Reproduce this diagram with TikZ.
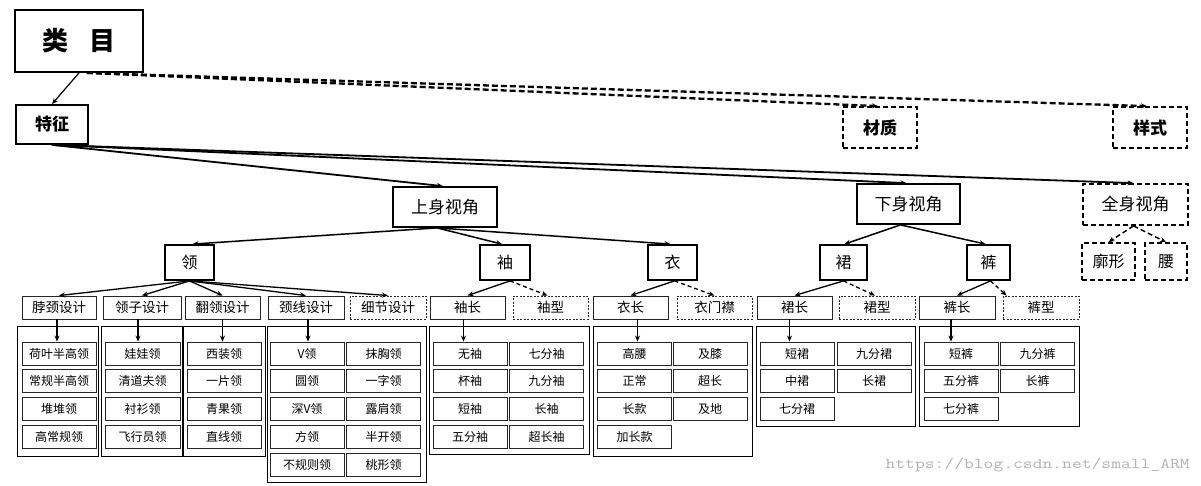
\documentclass[tikz,border=0pt]{standalone}
\usepackage{fontspec}
\newfontfamily\cjk{Noto Sans CJK SC}
\usetikzlibrary{arrows.meta}
\begin{document}
\begin{tikzpicture}[x=1pt,y=-1pt,
  every node/.style={inner sep=0pt, align=center, font=\cjk},
  tbox/.style={draw, line width=1.8pt},
  dbox/.style={draw, line width=1.8pt, dash pattern=on 5pt off 3pt},
  fa/.style={font=\cjk\fontsize{17}{17}\selectfont},
  fb/.style={font=\cjk\fontsize{16}{16}\selectfont},
  lthree/.style={draw=black!85, line width=0.9pt, minimum width=75pt, minimum height=23pt, font=\cjk\fontsize{13.5}{14}\selectfont},
  lthreed/.style={lthree, dash pattern=on 2pt off 1.5pt},
  item/.style={draw=black!85, line width=0.9pt, minimum width=74pt, minimum height=23pt, font=\cjk\fontsize{12}{12}\selectfont},
  cont/.style={draw, line width=0.9pt},
  tip/.style={-{Stealth[length=6pt,width=5pt]}},
  arr/.style={tip, line width=1.5pt},
  darr/.style={arr, dash pattern=on 5pt off 3pt},
  topd/.style={tip, line width=2.3pt, dash pattern=on 6pt off 3pt},
  inarr/.style={tip, line width=1.4pt}
]
\useasboundingbox (0,0) rectangle (1201,485);

% top level
\node[tbox, minimum width=128pt, minimum height=62pt, font=\cjk\bfseries\fontsize{26}{26}\selectfont] (lm) at (79,41) {类\hspace{22pt}目};
\node[tbox, minimum width=72pt, minimum height=39pt, font=\cjk\bfseries\fontsize{17}{17}\selectfont] (tz) at (52,124.5) {特征};
\node[dbox, minimum width=74pt, minimum height=41pt, font=\cjk\bfseries\fontsize{17}{17}\selectfont] (cz) at (880,127.5) {材质};
\node[dbox, minimum width=74pt, minimum height=41pt, font=\cjk\bfseries\fontsize{17}{17}\selectfont] (ys) at (1150,127.5) {样式};

% level 2
\node[tbox, fa, minimum width=104pt, minimum height=40pt] (ss) at (445,207) {上身视角};
\node[tbox, fa, minimum width=103pt, minimum height=40pt] (xs) at (908.5,204) {下身视角};
\node[dbox, fa, minimum width=105pt, minimum height=41pt] (qs) at (1135.5,204.5) {全身视角};
\node[dbox, fb, minimum width=53pt, minimum height=37pt] (kx) at (1108.5,261.5) {廓形};
\node[dbox, fb, minimum width=42pt, minimum height=37pt] (yao) at (1166,261.5) {腰};

\node[tbox, fb, minimum width=49pt, minimum height=35pt] (ling) at (189.5,262.5) {领};
\node[tbox, fb, minimum width=50pt, minimum height=35pt] (xiu) at (505,262.5) {袖};
\node[tbox, fb, minimum width=49pt, minimum height=35pt] (yi) at (672.5,262.5) {衣};
\node[tbox, fb, minimum width=47pt, minimum height=35pt] (qun) at (843.5,262.5) {裙};
\node[tbox, fb, minimum width=43pt, minimum height=35pt] (ku) at (988.5,262.5) {裤};

% level 3
\node[lthree, minimum width=74pt] (b1) at (59,307.5) {脖颈设计};
\node[lthree, minimum width=78pt] (b2) at (142,307.5) {领子设计};
\node[lthree] (b3) at (222.5,307.5) {翻领设计};
\node[lthree, minimum width=76pt] (b4) at (306,307.5) {颈线设计};
\node[lthreed, minimum width=76pt] (b5) at (388,307.5) {细节设计};
\node[lthree] (b6) at (467.5,307.5) {袖长};
\node[lthreed] (b7) at (550.5,307.5) {袖型};
\node[lthree] (b8) at (630.5,307.5) {衣长};
\node[lthreed] (b9) at (714.5,307.5) {衣门襟};
\node[lthree] (b10) at (794.5,307.5) {裙长};
\node[lthreed, minimum width=76pt] (b11) at (877,307.5) {裙型};
\node[lthree, minimum width=76pt] (b12) at (957,307.5) {裤长};
\node[lthreed, minimum width=76pt] (b13) at (1041,307.5) {裤型};

% containers
\node[cont, minimum width=81pt, minimum height=130pt] (k1) at (57.5,391) {};
\node[cont, minimum width=81pt, minimum height=130pt] (k2) at (141.5,391) {};
\node[cont, minimum width=82pt, minimum height=130pt] (k3) at (224,391) {};
\node[cont, minimum width=159pt, minimum height=156pt] (k4) at (346.5,404) {};
\node[cont, minimum width=160pt, minimum height=128pt] (k5) at (509,390) {};
\node[cont, minimum width=159pt, minimum height=130pt] (k6) at (672.5,391) {};
\node[cont, minimum width=159pt, minimum height=100pt] (k7) at (835.5,376) {};
\node[cont, minimum width=160pt, minimum height=100pt] (k8) at (999,376) {};

% items
\foreach \t [count=\i from 0] in {荷叶半高领,常规半高领,堆堆领,高常规领}
  \node[item] (pa\i) at (59,353.5+27.8*\i) {\t};
\foreach \t [count=\i from 0] in {娃娃领,清道夫领,衬衫领,飞行员领}
  \node[item, minimum width=75pt] (pb\i) at (142.5,353.5+27.8*\i) {\t};
\foreach \t [count=\i from 0] in {西装领,一片领,青果领,直线领}
  \node[item] (pc\i) at (224,353.5+27.8*\i) {\t};
\foreach \l/\r [count=\i from 0] in {V领/抹胸领,圆领/一字领,深V领/露肩领,方领/半开领,不规则领/桃形领}{
  \node[item] (pd\i) at (307,353.5+27.8*\i) {\l};
  \node[item] (qd\i) at (383.5,353.5+27.8*\i) {\r};}
\foreach \l/\r [count=\i from 0] in {无袖/七分袖,杯袖/九分袖,短袖/长袖,五分袖/超长袖}{
  \node[item] (pe\i) at (470,353.5+27.8*\i) {\l};
  \node[item] (qe\i) at (546.5,353.5+27.8*\i) {\r};}
\foreach \l/\r [count=\i from 0] in {高腰/及膝,正常/超长,长款/及地}{
  \node[item] (pf\i) at (634.5,353.5+27.8*\i) {\l};
  \node[item] (qf\i) at (710,353.5+27.8*\i) {\r};}
\node[item] (pf3) at (634.5,353.5+27.8*3) {加长款};
\foreach \l/\r [count=\i from 0] in {短裙/九分裙,中裙/长裙}{
  \node[item] (pg\i) at (797,353.5+27.8*\i) {\l};
  \node[item] (qg\i) at (874,353.5+27.8*\i) {\r};}
\node[item] (pg2) at (797,353.5+27.8*2) {七分裙};
\foreach \l/\r [count=\i from 0] in {短裤/九分裤,五分裤/长裤}{
  \node[item] (ph\i) at (961,353.5+27.8*\i) {\l};
  \node[item] (qh\i) at (1037.5,353.5+27.8*\i) {\r};}
\node[item] (ph2) at (961,353.5+27.8*2) {七分裤};

% connectors: top
\draw[tip, line width=1.2pt] (lm.south) -- (tz.north);
\coordinate (lmd) at ([xshift=8pt]lm.south);
\draw[topd] (lmd) -- ([xshift=-2pt]cz.north);
\draw[topd] (lmd) -- ([xshift=-3pt]ys.north);
\draw[arr, line width=1.8pt] (tz.south) -- ([xshift=-2pt]ss.north);
\draw[arr, line width=1.8pt] (tz.south) -- ([xshift=-2pt]xs.north);
\draw[arr, line width=1.8pt] (tz.south) -- ([xshift=-2pt]qs.north);

% level 2
\coordinate (ssb) at ([xshift=-8pt]ss.south);
\draw[arr] (ssb) -- ([xshift=3pt]ling.north);
\draw[arr] (ssb) -- ([xshift=-3pt]xiu.north);
\draw[arr] (ssb) -- ([xshift=-2pt]yi.north);
\draw[arr] ([xshift=-8pt]xs.south) -- ([xshift=1pt]qun.north);
\draw[arr] ([xshift=-8pt]xs.south) -- ([xshift=-3pt]ku.north);
\draw[darr] ([xshift=-2pt]qs.south) -- (kx.north);
\draw[darr] ([xshift=-2pt]qs.south) -- (yao.north);

% level 3
\foreach \t in {b1,b2,b3,b4,b5} \draw[arr, line width=1.3pt] (ling.south) -- (\t.north);
\draw[arr, line width=1.3pt] ([xshift=5pt]xiu.south) -- (b6.north);
\draw[darr, line width=1.3pt, dash pattern=on 4pt off 3pt] ([xshift=5pt]xiu.south) -- ([xshift=-3pt]b7.north);
\draw[arr, line width=1.3pt] ([xshift=2pt]yi.south) -- (b8.north);
\draw[darr, line width=1.3pt, dash pattern=on 4pt off 3pt] ([xshift=2pt]yi.south) -- (b9.north);
\draw[arr, line width=1.3pt] (qun.south) -- (b10.north);
\draw[darr, line width=1.3pt, dash pattern=on 4pt off 3pt] (qun.south) -- ([xshift=-2pt]b11.north);
\draw[arr, line width=1.3pt] ([xshift=2pt]ku.south) -- (b12.north);
\draw[darr, line width=1.3pt, dash pattern=on 4pt off 3pt] ([xshift=2pt]ku.south) -- ([xshift=4pt]b13.north west);

% inner arrows
\foreach \s/\d/\tg in {b1/-2/pa0, b2/-4/pb0, b3/0/pc0, b4/2/pd0, b6/-4/pe0, b8/7/pf0, b10/-5/pg0, b12/-6/ph0}{
  \coordinate (s\s) at ([xshift=\d pt]\s.south);
  \draw[inarr] (s\s) -- (s\s |- \tg.north);}

% watermark
\node[font=\fontsize{15}{15}\ttfamily, text=black!30, xscale=1.27, anchor=east] (wm) at (1190,465) {https://blog.csdn.net/small\_ARM};
\end{tikzpicture}
\end{document}
